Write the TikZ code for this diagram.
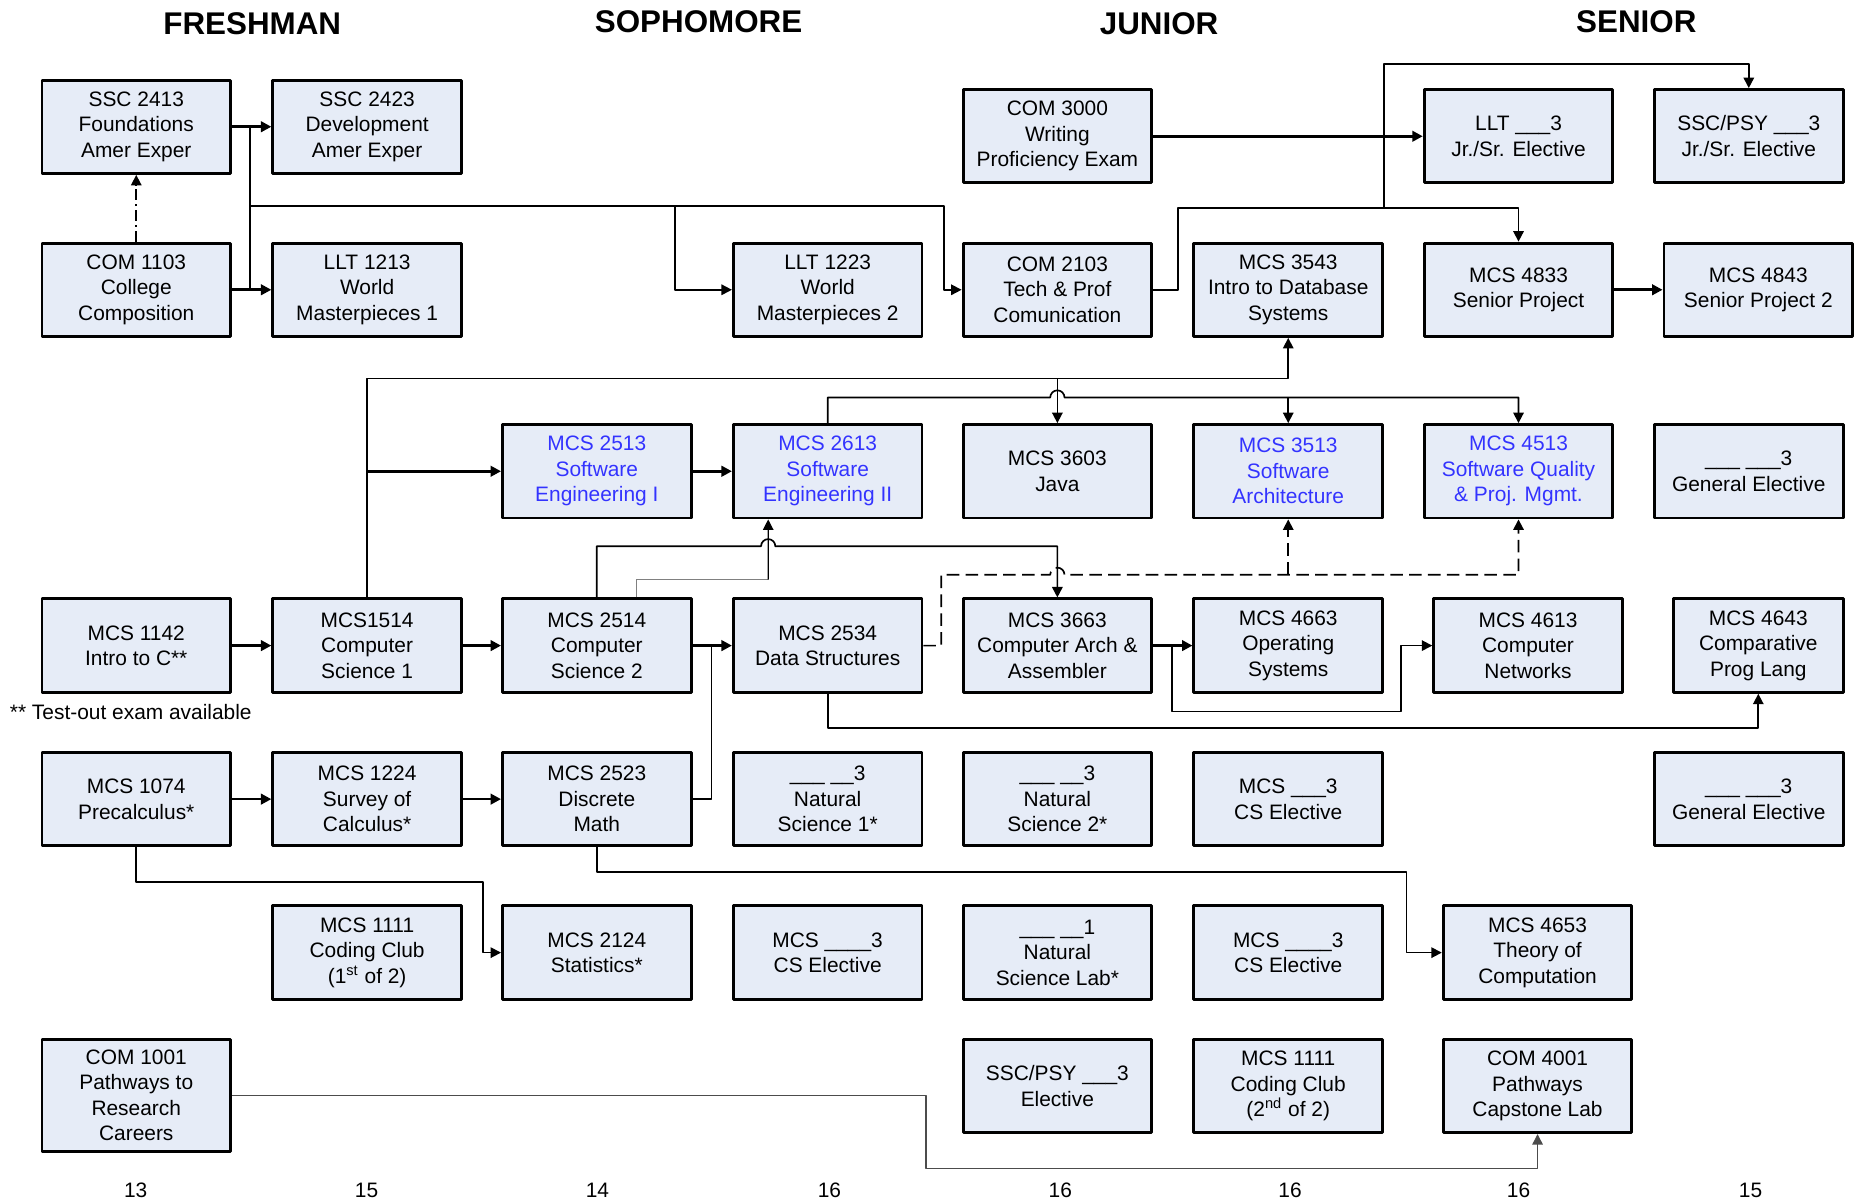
\documentclass[tikz,border=0pt]{standalone}
\usepackage{fontspec}
\setmainfont{Liberation Sans}
\usetikzlibrary{arrows.meta}
\definecolor{boxfill}{RGB}{230,236,247}
\definecolor{seblue}{RGB}{51,51,255}

\begin{document}
\begin{tikzpicture}[x=0.02cm, y=-0.02cm, line join=round,
	font=\fontsize{10}{12.2}\selectfont,
	yearhead/.style={font=\fontsize{15}{18}\selectfont\bfseries},
	course/.style={draw, line width=1.4pt, fill=boxfill, align=center, inner sep=1pt,
		minimum width=3.17cm, minimum height=1.57cm},
	secourse/.style={course, text=seblue},
	conn/.style={line width=0.8pt},
	heavy/.style={line width=1.3pt},
	arr/.style={-{Triangle[length=5pt,width=5pt]}}]
	\useasboundingbox (0,0) rectangle (1568,1010);

	% year headings
	\node[yearhead] (hfr) at (212,20) {FRESHMAN};
	\node[yearhead] (hso) at (587,18) {SOPHOMORE};
	\node[yearhead] (hjr) at (974,20) {JUNIOR};
	\node[yearhead] (hsr) at (1375,18) {SENIOR};

	% top rows
	\node[course] (s2413) at (114.5,106.5) {SSC 2413\\Foundations\\Amer Exper};
	\node[course] (s2423) at (308.5,106.5) {SSC 2423\\Development\\Amer Exper};
	\node[course] (c3000) at (888.5,114.5) {COM 3000\\Writing\\Proficiency Exam};
	\node[course] (lltel) at (1276,114.5) {LLT \_\_\_3\\Jr./Sr. Elective};
	\node[course] (sscel) at (1469.5,114.5) {SSC/PSY \_\_\_3\\Jr./Sr. Elective};

	\node[course] (c1103) at (114.5,243.5) {COM 1103\\College\\Composition};
	\node[course] (l1213) at (308.5,243.5) {LLT 1213\\World\\Masterpieces 1};
	\node[course] (l1223) at (695.5,243.5) {LLT 1223\\World\\Masterpieces 2};
	\node[course] (c2103) at (888.5,243.5) {COM 2103\\Tech \& Prof\\Comunication};
	\node[course] (m3543) at (1082.5,243.5) {MCS 3543\\Intro to Database\\Systems};
	\node[course] (m4833) at (1276,243.5) {MCS 4833\\Senior Project};
	\node[course] (m4843) at (1477.5,243.5) {MCS 4843\\Senior Project 2};

	% software row
	\node[secourse] (m2513) at (501.5,396) {MCS 2513\\Software\\Engineering I};
	\node[secourse] (m2613) at (695.5,396) {MCS 2613\\Software\\Engineering II};
	\node[course] (m3603) at (888.5,396) {MCS 3603\\Java};
	\node[secourse] (m3513) at (1082.5,396) {MCS 3513\\Software\\Architecture};
	\node[secourse] (m4513) at (1276,396) {MCS 4513\\Software Quality\\\& Proj. Mgmt.};
	\node[course] (genel1) at (1469.5,396) {\_\_\_ \_\_\_3\\General Elective};

	% programming row
	\node[course] (m1142) at (114.5,542.5) {MCS 1142\\Intro to C**};
	\node[course] (m1514) at (308.5,542.5) {MCS1514\\Computer\\Science 1};
	\node[course] (m2514) at (501.5,542.5) {MCS 2514\\Computer\\Science 2};
	\node[course] (m2534) at (695.5,542.5) {MCS 2534\\Data Structures};
	\node[course] (m3663) at (888.5,542.5) {MCS 3663\\Computer Arch \&\\Assembler};
	\node[course] (m4663) at (1082.5,542.5) {MCS 4663\\Operating\\Systems};
	\node[course] (m4613) at (1284,542.5) {MCS 4613\\Computer\\Networks};
	\node[course, minimum width=2.85cm] (m4643) at (1477.5,542.5) {MCS 4643\\Comparative\\Prog Lang};
	\node[anchor=west, inner sep=0pt] (testout) at (8,598) {** Test-out exam available};

	% math row
	\node[course] (m1074) at (114.5,671.5) {MCS 1074\\Precalculus*};
	\node[course] (m1224) at (308.5,671.5) {MCS 1224\\Survey of\\Calculus*};
	\node[course] (m2523) at (501.5,671.5) {MCS 2523\\Discrete\\Math};
	\node[course] (natsci1) at (695.5,671.5) {\_\_\_ \_\_3\\Natural\\Science 1*};
	\node[course] (natsci2) at (888.5,671.5) {\_\_\_ \_\_3\\Natural\\Science 2*};
	\node[course] (cselA) at (1082.5,671.5) {MCS \_\_\_3\\CS Elective};
	\node[course] (genel2) at (1469.5,671.5) {\_\_\_ \_\_\_3\\General Elective};

	\node[course] (m1111a) at (308.5,800.5) {MCS 1111\\Coding Club\\(1\textsuperscript{st} of 2)};
	\node[course] (m2124) at (501.5,800.5) {MCS 2124\\Statistics*};
	\node[course] (cselB) at (695.5,800.5) {MCS \_\_\_\_3\\CS Elective};
	\node[course] (natlab) at (888.5,800.5) {\_\_\_ \_\_1\\Natural\\Science Lab*};
	\node[course] (cselC) at (1082.5,800.5) {MCS \_\_\_\_3\\CS Elective};
	\node[course] (m4653) at (1292,800.5) {MCS 4653\\Theory of\\Computation};

	\node[course, minimum height=1.89cm] (c1001) at (114.5,920.5) {COM 1001\\Pathways to\\Research\\Careers};
	\node[course] (sscel2) at (888.5,912.5) {SSC/PSY \_\_\_3\\Elective};
	\node[course] (m1111b) at (1082.5,912.5) {MCS 1111\\Coding Club\\(2\textsuperscript{nd} of 2)};
	\node[course] (c4001) at (1292,912.5) {COM 4001\\Pathways\\Capstone Lab};

	% credit hours
	\foreach \cx/\cr [count=\i] in {114/13, 308/15, 502/14, 697/16, 891/16, 1084/16, 1276/16, 1471/15}
		\node (cred\i) at (\cx,1000) {\cr};

	% junctions
	\coordinate (jFr) at (210,173);
	\coordinate (jLit) at (567,173);
	\coordinate (jCom) at (793,173);
	\coordinate (jSr) at (1163,175);
	\coordinate (topBus) at (1163,54);
	\coordinate (dbBus) at (700,318);
	\coordinate (seBus) at (1276,334);
	\coordinate (jSE2) at (645.5,487);
	\coordinate (dashBus) at (1082.5,483);
	\coordinate (jDS) at (598,542.5);
	\coordinate (jOS) at (985,542.5);
	\coordinate (plBus) at (1000,612);
	\coordinate (statBus) at (406,741);
	\coordinate (tocBus) at (1182,733);

	% freshman / general ed
	\draw[heavy, arr] (s2413) -- (s2423);
	\draw[heavy, arr] (c1103) -- (l1213);
	\draw[conn] (jFr |- s2413.east) -- (jFr |- c1103.east);
	\draw[conn, arr] (jFr) -- (jCom) |- (c2103.west);
	\draw[conn, arr] (jLit) |- (l1223.west);
	\draw[conn, arr, dash pattern=on 5pt off 2pt on 1pt off 2pt] (c1103) -- (s2413);
	\draw[heavy, arr] (c3000) -- (lltel);
	\draw[conn, arr] (c2103.east) -- ++(21,0) |- (jSr) -| (m4833.north);
	\draw[conn, arr] (jSr) -- (topBus) -| (sscel.north);
	\draw[heavy, arr] (m4833) -- (m4843);

	% programming chain
	\draw[conn, arr] (m1514.north) |- (dbBus) -| (m3543.south);
	\draw[heavy, arr] (m1514.north |- m2513.west) -- (m2513.west);
	\draw[heavy, arr] (m2513) -- (m2613);
	\draw[conn, arr] (m3603.north |- dbBus) -- (m3603.north);
	\draw[conn, arr] (m2613.north) |- (882.5,334) arc[start angle=180, end angle=0, radius=0.12cm] -- (seBus) -- (m4513.north);
	\draw[conn, arr] (m3513.north |- seBus) -- (m3513.north);
	\draw[conn, arr] (m2514.north) |- (639.5,459) arc[start angle=180, end angle=0, radius=0.12cm] -| (m3663.north);
	\draw[line width=0.6pt, gray] ([xshift=0.67cm]m2514.north) |- (jSE2);
	\draw[line width=0.6pt, arr] (jSE2) -- ([xshift=-1cm]m2613.south);
	\draw[conn, arr, dash pattern=on 6pt off 3pt] (m2534.east) -- ++(15,0) |- (882.5,483) arc[start angle=180, end angle=0, radius=0.12cm] -| (m4513.south);
	\draw[conn, arr, dash pattern=on 6pt off 3pt] (dashBus) -- (m3513.south);

	\draw[heavy, arr] (m1142) -- (m1514);
	\draw[heavy, arr] (m1514) -- (m2514);
	\draw[heavy, arr] (m2514) -- (m2534);
	\draw[conn] (m2523.east) -| (jDS);
	\draw[heavy, arr] (m3663) -- (m4663);
	\draw[conn, arr] (jOS) |- (1177,598) |- (m4613.west);
	\draw[conn, arr] (m2534.south) |- (plBus) -| (m4643.south);

	% math chain
	\draw[heavy, arr] (m1074) -- (m1224);
	\draw[heavy, arr] (m1224) -- (m2523);
	\draw[conn, arr] (m1074.south) |- (statBus) |- (m2124.west);
	\draw[conn, arr] (m2523.south) |- (tocBus) |- (m4653.west);
	\draw[line width=0.6pt, black!70, arr] (c1001.east) -| (778,982) -| (c4001.south);
\end{tikzpicture}
\end{document}
